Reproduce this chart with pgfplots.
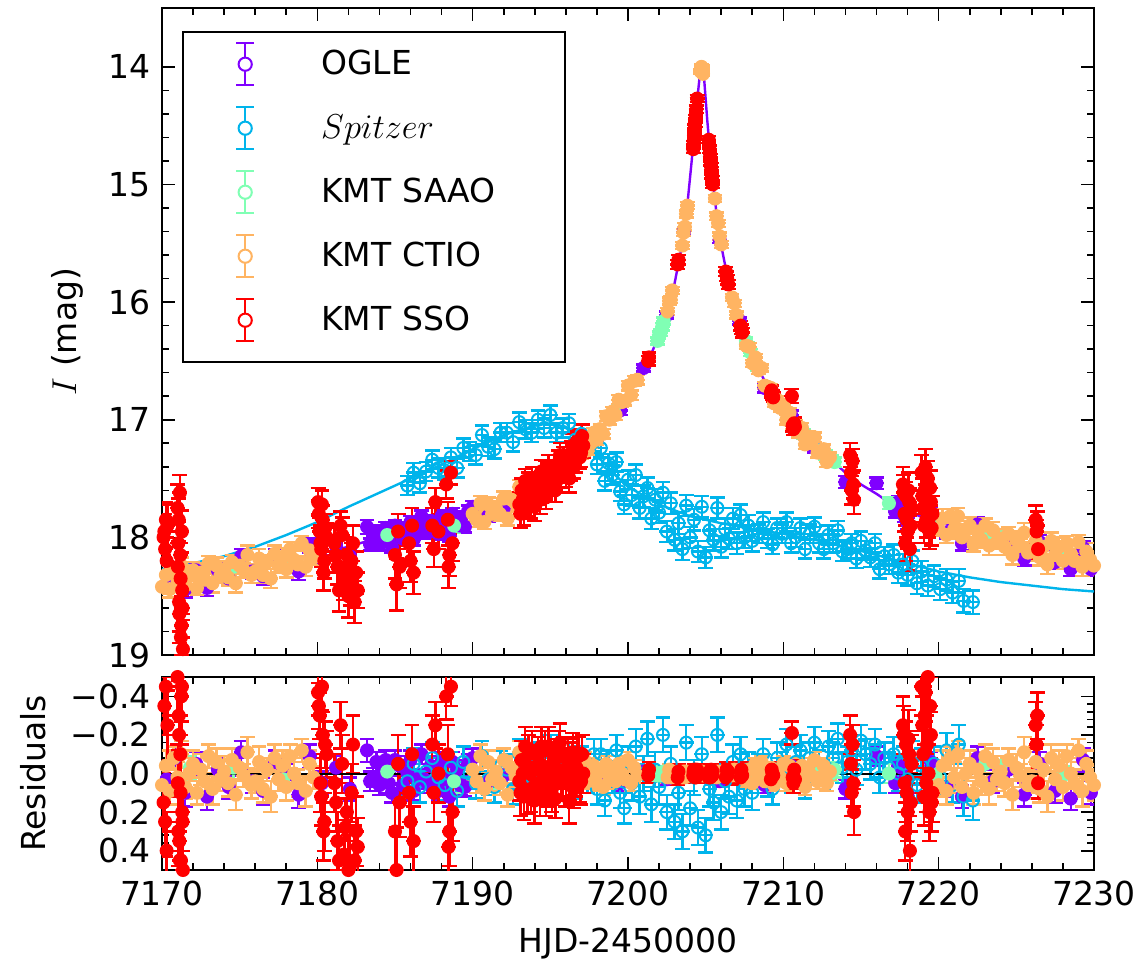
\documentclass[border=0pt]{standalone}
\usepackage{fontspec}
\setmainfont{DejaVu Sans}
\usepackage{pgfplots}
\usepackage{pgfplotstable}
\pgfplotsset{compat=1.18}
\definecolor{ogle}{RGB}{128,0,255}
\definecolor{spitzer}{RGB}{0,180,235}
\definecolor{saao}{RGB}{128,255,180}
\definecolor{ctio}{RGB}{255,180,98}
\definecolor{sso}{RGB}{255,0,0}

\pgfplotstableread{
t m e r
7170.3 18.39 0.06 0.03
7170.8 18.27 0.06 -0.08
7171.5 18.44 0.07 0.10
7172.2 18.28 0.06 -0.05
7172.9 18.43 0.07 0.12
7173.6 18.28 0.06 -0.02
7174.3 18.35 0.06 0.07
7175.1 18.16 0.06 -0.11
7175.8 18.29 0.06 0.04
7176.5 18.33 0.07 0.09
7177.3 18.16 0.06 -0.06
7178.0 18.21 0.06 0.01
7178.8 18.29 0.07 0.11
7179.5 18.07 0.06 -0.09
7180.3 18.18 0.06 0.05
7181.2 18.07 0.06 -0.03
7182.1 18.16 0.06 0.08
7183.2 17.91 0.06 -0.12
7183.4 18.06 0.05 0.04
7183.6 18.04 0.05 0.02
7183.8 17.95 0.05 -0.06
7184.0 18.06 0.05 0.06
7184.2 17.97 0.05 -0.02
7184.4 17.92 0.05 -0.07
7184.6 18.03 0.05 0.05
7184.8 18.08 0.05 0.10
7185.0 17.90 0.05 -0.07
7185.3 17.92 0.05 -0.04
7185.5 18.01 0.05 0.06
7185.8 17.95 0.05 0.00
7186.0 17.87 0.05 -0.07
7186.2 18.02 0.05 0.09
7186.4 17.96 0.05 0.03
7186.7 17.82 0.05 -0.10
7186.9 17.94 0.05 0.03
7187.1 17.96 0.05 0.05
7187.3 17.86 0.05 -0.04
7187.6 17.92 0.05 0.03
7187.8 17.97 0.05 0.09
7188.0 17.82 0.05 -0.06
7188.2 17.90 0.05 0.03
7188.5 17.99 0.05 0.12
7188.7 17.80 0.05 -0.06
7189.0 17.83 0.05 -0.02
7189.2 17.90 0.05 0.06
7189.5 17.91 0.05 0.07
7189.7 17.78 0.05 -0.05
7190.0 17.74 0.05 -0.08
7191.0 17.82 0.05 0.04
7192.0 17.75 0.05 0.01
7193.5 17.59 0.05 -0.05
7195.0 17.57 0.05 0.06
7196.5 17.31 0.05 -0.03
7198.0 17.14 0.04 0.02
7199.5 16.92 0.04 0.05
7201.0 16.56 0.03 -0.01
7202.5 16.11 0.03 0.03
7203.6 15.40 0.03 0.00
7205.9 15.47 0.03 0.04
7207.2 16.16 0.03 -0.02
7208.8 16.73 0.04 0.06
7210.5 16.96 0.04 -0.04
7212.0 17.24 0.04 0.02
7214.0 17.53 0.05 0.08
7216.0 17.54 0.05 -0.09
7217.2 17.78 0.05 0.05
7217.4 17.70 0.05 -0.04
7217.6 17.73 0.05 -0.03
7217.8 17.82 0.05 0.05
7218.0 17.88 0.05 0.10
7219.5 17.79 0.05 -0.06
7220.5 17.96 0.05 0.07
7221.5 18.05 0.06 0.12
7222.5 17.89 0.06 -0.08
7223.5 18.04 0.06 0.04
7224.5 18.02 0.06 -0.02
7225.5 18.18 0.06 0.11
7226.5 18.04 0.06 -0.05
7227.5 18.21 0.06 0.09
7228.5 18.27 0.06 0.13
7229.3 18.09 0.06 -0.07
7229.8 18.27 0.06 0.10
}\ogletab

\pgfplotstableread{
t m e r
7185.8 17.56 0.08 0.04
7186.2 17.45 0.08 -0.05
7186.6 17.54 0.08 0.07
7187.0 17.44 0.08 -0.01
7187.4 17.34 0.08 -0.08
7187.8 17.41 0.08 0.02
7188.2 17.43 0.08 0.06
7188.6 17.32 0.08 -0.03
7189.0 17.41 0.08 0.09
7189.4 17.24 0.08 -0.06
7189.8 17.27 0.08 0.00
7190.2 17.30 0.08 0.05
7190.6 17.13 0.08 -0.09
7191.0 17.23 0.08 0.03
7191.4 17.25 0.08 0.07
7191.8 17.11 0.08 -0.04
7192.2 17.11 0.08 -0.02
7192.6 17.19 0.08 0.08
7193.0 17.02 0.08 -0.10
7193.4 17.08 0.08 -0.02
7193.8 17.11 0.08 0.02
7194.2 17.00 0.08 -0.08
7194.6 17.07 0.08 0.00
7195.0 16.96 0.08 -0.12
7195.4 17.11 0.08 0.03
7195.8 17.07 0.08 -0.02
7196.2 17.03 0.08 -0.08
7196.6 17.17 0.08 0.05
7197.0 17.12 0.08 -0.06
7197.4 17.21 0.08 0.02
7197.8 17.19 0.08 -0.10
7198.00 17.38 0.08 0.08
7198.25 17.24 0.08 -0.10
7198.50 17.52 0.08 0.14
7198.75 17.37 0.08 -0.04
7199.00 17.47 0.08 0.02
7199.25 17.36 0.08 -0.12
7199.50 17.61 0.08 0.10
7199.75 17.72 0.08 0.18
7200.00 17.51 0.08 -0.06
7200.25 17.64 0.09 0.05
7200.50 17.47 0.09 -0.14
7200.75 17.75 0.09 0.12
7201.00 17.65 0.09 0.00
7201.25 17.58 0.09 -0.18
7201.50 17.84 0.09 0.16
7201.75 17.68 0.09 -0.02
7202.00 17.79 0.09 0.07
7202.25 17.62 0.09 -0.20
7202.50 17.95 0.09 0.20
7202.75 17.71 0.09 -0.05
7203.00 18.02 0.09 0.25
7203.25 17.88 0.09 0.10
7203.50 18.10 0.09 0.30
7203.75 17.73 0.09 -0.16
7204.00 18.00 0.09 0.18
7204.25 17.85 0.09 0.02
7204.50 18.12 0.09 0.28
7204.75 17.74 0.09 -0.10
7205.00 18.17 0.09 0.32
7205.25 17.94 0.09 0.08
7205.50 18.02 0.09 0.15
7205.75 17.75 0.09 -0.20
7206.00 18.08 0.09 0.20
7206.25 17.93 0.09 0.04
7206.50 18.01 0.09 0.12
7206.75 17.84 0.09 -0.06
7207.00 18.05 0.09 0.14
7207.25 17.81 0.09 -0.10
7207.50 18.00 0.09 0.08
7207.75 17.90 0.09 -0.02
7208.00 18.03 0.09 0.10
7208.4 17.97 0.08 -0.02
7208.7 17.87 0.08 -0.10
7209.0 18.01 0.08 0.04
7209.3 18.06 0.08 0.08
7209.6 17.92 0.08 -0.08
7209.9 17.97 0.08 -0.03
7210.2 17.87 0.08 -0.15
7210.5 18.05 0.08 0.02
7210.8 18.00 0.08 -0.06
7211.1 17.92 0.08 -0.12
7211.4 18.10 0.08 0.05
7211.7 17.97 0.08 -0.08
7212.0 17.91 0.08 -0.16
7212.3 18.05 0.08 -0.04
7212.6 18.10 0.08 0.00
7212.9 17.98 0.08 -0.14
7213.2 18.05 0.08 -0.08
7213.5 17.94 0.08 -0.18
7213.8 18.12 0.08 -0.03
7214.1 18.10 0.08 -0.06
7214.4 18.05 0.08 -0.12
7214.7 18.18 0.08 -0.02
7215.0 18.03 0.08 -0.17
7215.3 18.11 0.08 -0.10
7215.6 18.17 0.08 -0.05
7215.9 18.05 0.08 -0.15
7216.2 18.27 0.08 0.02
7216.5 18.16 0.08 -0.08
7216.8 18.23 0.08 -0.03
7217.1 18.15 0.09 -0.10
7217.4 18.30 0.09 0.00
7217.7 18.23 0.09 -0.05
7218.0 18.32 0.09 0.03
7218.3 18.20 0.09 -0.08
7218.6 18.39 0.09 0.06
7218.9 18.29 0.09 -0.04
7219.3 18.41 0.09 0.05
7219.7 18.33 0.09 -0.05
7220.1 18.44 0.09 0.02
7220.5 18.36 0.09 -0.12
7220.9 18.47 0.09 0.06
7221.3 18.37 0.10 -0.15
7221.6 18.54 0.10 0.12
7222.2 18.55 0.10 0.14
}\spitab

\pgfplotstableread{
t m e r
7171.8 18.30 0.06 -0.03
7174.6 18.25 0.06 -0.03
7177.8 18.24 0.06 0.03
7184.5 17.98 0.06 -0.01
7188.8 17.90 0.06 0.04
7191.5 17.78 0.06 0.02
7199.1 16.93 0.03 -0.02
7201.9 16.33 0.03 0.01
7202.0 16.28 0.03 0.00
7202.1 16.26 0.03 0.01
7202.2 16.21 0.03 0.00
7202.3 16.16 0.03 -0.01
7207.6 16.33 0.03 0.00
7207.7 16.37 0.03 0.01
7207.9 16.43 0.03 -0.01
7208.3 16.55 0.03 0.00
7210.8 17.05 0.04 0.00
7211.3 17.12 0.04 -0.01
7212.3 17.26 0.04 0.00
7212.7 17.30 0.04 0.01
7213.1 17.34 0.04 0.00
7213.3 17.36 0.04 -0.02
7216.8 17.71 0.05 0.00
7219.8 17.86 0.05 0.01
7223.0 17.99 0.05 -0.05
7224.0 18.00 0.05 -0.04
7228.0 18.15 0.05 0.01
}\saaotab

\pgfplotstableread{
t m e r
7170.00 18.42 0.06 0.06
7170.25 18.32 0.08 -0.04
7170.50 18.44 0.07 0.09
7170.75 18.27 0.06 -0.08
7171.00 18.37 0.08 0.02
7171.25 18.24 0.07 -0.10
7171.50 18.41 0.06 0.07
7171.75 18.33 0.08 0.00
7172.00 18.28 0.07 -0.05
7172.25 18.43 0.06 0.10
7172.50 18.30 0.08 -0.02
7172.75 18.36 0.07 0.04
7173.00 18.22 0.06 -0.09
7173.25 18.39 0.08 0.08
7173.50 18.24 0.07 -0.06
7173.75 18.33 0.06 0.03
7174.00 18.28 0.08 -0.01
7174.25 18.34 0.07 0.05
7174.50 18.21 0.06 -0.07
7174.75 18.39 0.08 0.11
7175.00 18.24 0.07 -0.03
7175.25 18.28 0.06 0.01
7175.50 18.15 0.08 -0.11
7175.75 18.32 0.07 0.06
7176.00 18.29 0.06 0.04
7176.25 18.18 0.08 -0.06
7176.50 18.32 0.07 0.08
7176.75 18.21 0.06 -0.02
7177.00 18.35 0.08 0.12
7177.25 18.14 0.07 -0.08
7177.50 18.24 0.06 0.03
7177.75 18.17 0.08 -0.04
7178.00 18.27 0.07 0.07
7178.25 18.10 0.06 -0.09
7178.50 18.19 0.08 0.00
7178.75 18.23 0.07 0.05
7179.00 18.05 0.06 -0.12
7179.25 18.25 0.08 0.09
7179.50 18.11 0.07 -0.05
7179.75 18.17 0.06 0.02
7190.00 17.80 0.06 -0.02
7190.25 17.85 0.06 0.04
7190.50 17.71 0.06 -0.09
7190.75 17.87 0.06 0.08
7191.00 17.72 0.06 -0.06
7191.25 17.80 0.06 0.03
7191.50 17.75 0.06 -0.01
7191.75 17.80 0.06 0.05
7192.00 17.67 0.06 -0.07
7192.25 17.84 0.06 0.11
7192.50 17.68 0.06 -0.03
7192.75 17.71 0.06 0.01
7193.00 17.57 0.06 -0.11
7196.8 17.28 0.04 -0.02
7197.0 17.29 0.04 0.01
7197.2 17.18 0.04 -0.07
7197.4 17.26 0.04 0.04
7197.6 17.20 0.04 0.02
7197.8 17.11 0.04 -0.04
7198.0 17.17 0.04 0.05
7198.2 17.08 0.04 -0.01
7198.4 17.12 0.04 0.07
7198.6 16.97 0.04 -0.05
7198.8 17.00 0.04 0.02
7199.0 16.93 0.04 -0.02
7199.2 16.96 0.04 0.04
7199.4 16.83 0.04 -0.05
7199.6 16.85 0.04 0.00
7199.8 16.84 0.04 0.03
7200.0 16.71 0.04 -0.07
7200.2 16.79 0.04 0.05
7200.4 16.67 0.04 -0.03
7200.6 16.66 0.04 0.01
7202.55 16.08 0.03 0.02
7202.65 15.99 0.03 -0.02
7202.75 15.98 0.03 0.02
7202.85 15.90 0.03 -0.01
7203.50 15.52 0.03 0.02
7203.58 15.41 0.03 -0.01
7203.66 15.36 0.03 0.02
7203.74 15.25 0.03 -0.01
7203.82 15.18 0.03 0.01
7204.68 14.04 0.02 -0.01
7204.73 14.00 0.02 -0.01
7204.78 14.01 0.02 0.00
7204.83 14.06 0.02 0.01
7205.60 15.12 0.03 -0.01
7205.70 15.27 0.03 0.02
7205.80 15.33 0.03 -0.01
7205.90 15.44 0.03 0.01
7206.00 15.51 0.03 -0.01
7206.70 15.96 0.03 0.01
7206.85 16.01 0.03 -0.02
7207.00 16.11 0.03 0.01
7207.6 16.37 0.03 0.04
7207.8 16.38 0.03 -0.02
7208.0 16.52 0.03 0.05
7208.2 16.47 0.03 -0.05
7208.4 16.58 0.03 0.01
7208.6 16.56 0.03 -0.06
7208.8 16.71 0.03 0.04
7209.0 16.72 0.03 0.00
7209.2 16.73 0.03 -0.03
7209.4 16.86 0.03 0.06
7209.6 16.83 0.03 -0.01
7209.8 16.90 0.03 0.02
7210.0 16.87 0.04 -0.05
7210.2 17.00 0.04 0.05
7210.4 16.94 0.04 -0.04
7210.6 17.04 0.04 0.02
7210.8 17.04 0.04 -0.01
7211.0 17.11 0.04 0.03
7211.2 17.07 0.04 -0.04
7211.4 17.21 0.04 0.07
7211.6 17.14 0.04 -0.02
7211.8 17.20 0.04 0.01
7212.0 17.15 0.04 -0.07
7212.2 17.28 0.04 0.04
7212.4 17.28 0.04 0.02
7212.6 17.25 0.04 -0.04
7212.8 17.36 0.04 0.05
7213.0 17.32 0.04 -0.01
7220.00 17.93 0.06 0.06
7220.25 17.84 0.08 -0.04
7220.50 17.98 0.07 0.09
7220.75 17.82 0.06 -0.08
7221.00 17.93 0.08 0.02
7221.25 17.82 0.07 -0.10
7221.50 18.00 0.06 0.07
7221.75 17.94 0.08 0.00
7222.00 17.90 0.07 -0.05
7222.25 18.06 0.06 0.10
7222.50 17.95 0.08 -0.02
7222.75 18.02 0.07 0.04
7223.00 17.90 0.06 -0.09
7223.25 18.07 0.08 0.08
7223.50 17.94 0.07 -0.06
7223.75 18.04 0.06 0.03
7224.00 18.01 0.08 -0.01
7224.25 18.08 0.07 0.05
7224.50 17.97 0.06 -0.07
7224.75 18.15 0.08 0.11
7225.00 18.02 0.07 -0.03
7225.25 18.07 0.06 0.01
7225.50 17.96 0.08 -0.11
7225.75 18.13 0.07 0.06
7226.00 18.12 0.06 0.04
7226.25 18.03 0.08 -0.06
7226.50 18.17 0.07 0.08
7226.75 18.08 0.06 -0.02
7227.00 18.23 0.08 0.12
7227.25 18.03 0.07 -0.08
7227.50 18.15 0.06 0.03
7227.75 18.08 0.08 -0.04
7228.00 18.20 0.07 0.07
7228.25 18.05 0.06 -0.09
7228.50 18.14 0.08 0.00
7228.75 18.20 0.07 0.05
7229.00 18.04 0.06 -0.12
7229.25 18.25 0.08 0.09
7229.50 18.12 0.07 -0.05
7229.75 18.19 0.06 0.02
7230.00 18.24 0.08 0.06
}\ctiotab

\pgfplotstableread{
t m e r
7170.10 18.00 0.15 0.15
7170.15 17.95 0.15 -0.35
7170.20 18.10 0.18 0.25
7170.25 17.85 0.15 -0.45
7170.30 18.20 0.20 0.40
7170.35 17.90 0.18 -0.25
7171.00 17.75 0.20 -0.50
7171.02 18.25 0.20 0.05
7171.05 18.05 0.18 0.30
7171.08 17.85 0.18 -0.30
7171.10 18.55 0.25 -0.20
7171.12 18.65 0.25 0.35
7171.15 17.62 0.15 0.45
7171.18 18.15 0.20 -0.10
7171.20 18.35 0.30 0.10
7171.22 18.85 0.25 0.45
7171.25 18.75 0.25 -0.40
7171.28 17.95 0.18 -0.45
7171.30 18.45 0.20 0.20
7171.32 18.60 0.25 0.25
7171.35 18.95 0.25 0.50
7180.05 17.70 0.12 -0.42
7180.10 17.80 0.12 -0.35
7180.15 17.95 0.12 -0.30
7180.20 18.05 0.15 0.05
7180.25 18.10 0.15 0.12
7180.30 17.72 0.12 -0.45
7180.35 17.85 0.12 -0.20
7180.40 18.30 0.15 0.30
7180.45 18.20 0.15 0.25
7180.50 17.92 0.12 -0.15
7180.60 18.00 0.12 -0.10
7181.10 18.05 0.15 0.05
7181.20 18.15 0.15 0.15
7181.30 18.25 0.15 0.35
7181.40 18.45 0.18 0.45
7181.50 17.90 0.12 -0.25
7181.60 17.98 0.15 -0.05
7181.70 18.35 0.18 0.42
7181.80 18.25 0.15 0.28
7181.90 18.15 0.15 0.20
7182.00 18.50 0.18 0.50
7182.10 18.40 0.18 0.48
7182.20 18.20 0.15 0.10
7182.30 18.05 0.15 -0.15
7182.40 18.55 0.18 0.45
7182.50 18.30 0.18 0.30
7182.60 18.45 0.15 0.38
7185.00 18.15 0.20 0.30
7185.10 18.40 0.22 0.50
7185.20 17.95 0.15 -0.05
7185.30 18.25 0.18 0.15
7185.90 18.05 0.15 0.10
7186.00 18.20 0.18 0.25
7186.10 17.90 0.15 -0.10
7186.20 18.30 0.18 0.35
7187.40 17.90 0.15 -0.15
7187.50 18.10 0.15 0.10
7187.60 17.70 0.12 -0.25
7187.80 17.95 0.15 0.00
7188.30 17.55 0.12 -0.40
7188.40 17.85 0.15 -0.10
7188.45 18.25 0.18 0.38
7188.50 18.15 0.18 0.30
7188.60 17.45 0.10 -0.45
7188.70 18.05 0.15 0.20
7193.00 17.72 0.10 0.04
7193.08 17.80 0.12 0.10
7193.15 17.60 0.10 -0.07
7193.22 17.68 0.10 0.00
7193.30 17.78 0.12 0.12
7193.38 17.52 0.10 -0.14
7193.45 17.62 0.10 -0.04
7193.52 17.70 0.12 0.09
7193.60 17.55 0.10 -0.10
7193.68 17.62 0.10 0.00
7193.75 17.72 0.12 0.08
7193.82 17.50 0.10 -0.12
7193.90 17.58 0.10 -0.03
7193.98 17.74 0.12 0.14
7194.05 17.66 0.10 0.06
7194.12 17.56 0.10 -0.02
7194.20 17.50 0.10 -0.09
7194.28 17.62 0.10 0.05
7194.35 17.68 0.12 0.10
7194.42 17.44 0.10 -0.14
7194.50 17.52 0.10 -0.04
7194.58 17.58 0.12 0.02
7194.65 17.45 0.10 -0.12
7194.72 17.66 0.10 0.12
7194.80 17.60 0.10 0.07
7194.88 17.40 0.10 -0.14
7194.95 17.48 0.10 -0.03
7195.02 17.55 0.10 0.06
7195.10 17.58 0.12 0.08
7195.18 17.46 0.12 -0.01
7195.25 17.40 0.10 -0.08
7195.32 17.60 0.10 0.13
7195.40 17.52 0.10 0.03
7195.48 17.44 0.10 -0.02
7195.55 17.36 0.10 -0.12
7195.62 17.30 0.10 -0.16
7195.70 17.48 0.10 0.04
7195.78 17.42 0.12 0.00
7195.85 17.33 0.10 -0.09
7195.92 17.38 0.10 -0.02
7196.00 17.45 0.12 0.05
7196.08 17.36 0.10 -0.03
7196.15 17.30 0.10 -0.08
7196.22 17.50 0.12 0.14
7196.30 17.42 0.10 0.06
7196.38 17.28 0.10 -0.06
7196.45 17.22 0.10 -0.11
7196.52 17.40 0.10 0.08
7196.60 17.35 0.10 0.02
7196.68 17.26 0.10 -0.03
7196.75 17.20 0.10 -0.09
7196.82 17.18 0.10 -0.09
7196.90 17.32 0.10 0.05
7196.98 17.28 0.12 0.04
7197.05 17.14 0.10 -0.10
7197.12 17.22 0.10 0.00
7201.30 16.50 0.04 0.01
7201.35 16.47 0.04 -0.02
7203.20 15.68 0.04 0.02
7203.25 15.64 0.04 -0.01
7204.20 14.70 0.03 0.01
7204.22 14.66 0.03 -0.01
7204.25 14.62 0.03 -0.02
7204.28 14.57 0.03 0.01
7204.30 14.52 0.03 0.02
7204.32 14.48 0.03 -0.02
7204.35 14.44 0.03 -0.01
7204.38 14.40 0.03 0.02
7204.40 14.36 0.03 0.01
7204.45 14.27 0.03 -0.02
7205.20 14.62 0.03 0.02
7205.22 14.66 0.03 0.00
7205.25 14.70 0.03 -0.01
7205.28 14.74 0.03 0.01
7205.30 14.77 0.03 0.02
7205.32 14.81 0.03 -0.01
7205.35 14.85 0.03 -0.02
7205.38 14.88 0.03 0.00
7205.40 14.92 0.03 0.01
7205.42 14.96 0.03 0.01
7205.45 15.00 0.03 -0.01
7206.30 15.74 0.04 0.02
7206.35 15.78 0.04 -0.02
7206.40 15.81 0.04 0.01
7206.45 15.85 0.04 -0.01
7207.25 16.20 0.04 0.02
7207.30 16.23 0.04 -0.02
7207.35 16.26 0.04 0.01
7209.20 16.77 0.04 0.03
7209.25 16.75 0.04 -0.02
7209.30 16.79 0.04 0.00
7209.35 16.81 0.04 0.01
7210.55 16.80 0.06 -0.21
7210.60 17.05 0.05 0.02
7210.65 17.08 0.05 0.05
7210.70 17.03 0.05 -0.02
7210.75 17.06 0.05 0.03
7214.30 17.30 0.10 -0.20
7214.35 17.45 0.10 -0.05
7214.40 17.60 0.12 0.10
7214.45 17.35 0.10 -0.15
7214.50 17.55 0.12 0.05
7214.55 17.68 0.12 0.20
7217.70 17.55 0.15 -0.25
7217.75 17.62 0.15 -0.20
7217.80 17.80 0.15 0.05
7217.85 18.05 0.15 0.30
7217.90 17.65 0.12 -0.15
7217.95 17.85 0.15 0.10
7218.00 17.95 0.15 0.20
7218.05 17.60 0.15 -0.18
7218.10 17.70 0.12 -0.10
7218.15 18.10 0.18 0.40
7218.20 17.90 0.15 0.15
7218.25 17.75 0.15 -0.05
7218.90 17.45 0.15 -0.45
7218.95 17.65 0.15 -0.25
7219.00 17.75 0.12 -0.10
7219.05 17.90 0.15 0.12
7219.10 17.60 0.15 -0.30
7219.15 17.40 0.15 -0.42
7219.20 17.85 0.15 0.05
7219.25 17.70 0.15 -0.15
7219.30 17.50 0.15 -0.50
7219.35 17.85 0.15 0.00
7219.40 17.95 0.15 0.20
7219.45 17.58 0.15 -0.35
7219.50 17.70 0.12 -0.20
7219.55 17.92 0.15 0.15
7219.60 17.80 0.15 0.10
7226.25 17.85 0.12 -0.25
7226.30 17.95 0.10 -0.15
7226.35 17.90 0.12 -0.30
7226.40 18.10 0.08 0.05
}\ssotab

\pgfplotsset{
  dat/.style={only marks, mark=o, mark size=3pt,
    mark options={line width=1pt, solid}, line width=1pt,
    error bars/y dir=both, error bars/y explicit,
    error bars/error bar style={line width=1.2pt},
    error bars/draw error bar/.code 2 args={%
      \draw[line width=1.2pt] ##1 -- ##2
        ##1 ++(-3.7pt,0pt) -- ++(7.4pt,0pt)
        ##2 ++(-3.7pt,0pt) -- ++(7.4pt,0pt);}},
  datf/.style={dat, mark=*},
  errleg/.style={legend image code/.code={
    \path[draw=none, fill=none] (0pt,-18.5pt) rectangle (60pt,13.5pt);
    \draw[#1, line width=1pt] (31pt,-10.5pt) -- (31pt,10.5pt)
      (26.5pt,-10.5pt) -- (35.5pt,-10.5pt) (26.5pt,10.5pt) -- (35.5pt,10.5pt);
    \draw[#1, line width=1pt, fill=white] (31pt,0pt) circle (3.3pt);}},
  base/.style={scale only axis, width=466pt, xmin=7170, xmax=7230,
    y dir=reverse, xtick={7170,7180,7190,7200,7210,7220,7230},
    minor x tick num=4, tick align=inside, xtick pos=both, ytick pos=both,
    major tick length=6.5pt, minor tick length=3.5pt,
    tick style={black, line width=0.8pt},
    axis line style={line width=1pt},
    tick label style={font=\fontsize{16.5}{20}\selectfont},
    label style={font=\fontsize{16.5}{20}\selectfont},
    yticklabel style={xshift=-2pt}, xticklabel style={yshift=-2pt}},
}

\begin{document}
\begin{tikzpicture}[font=\fontsize{16.5}{20}\selectfont]
\useasboundingbox (-81pt,-157.5pt) rectangle (488pt,327.5pt);
\begin{axis}[base, name=top, at={(0,0)}, anchor=south west,
  height=323.5pt, ymin=13.5, ymax=19,
  xticklabels={},
  ytick={14,15,16,17,18,19}, yticklabels={14,15,16,17,18,19},
  minor y tick num=4,
  ylabel={$I$ (mag)},
  ylabel style={at={(axis description cs:-0.102,0.5)}, anchor=center},
  legend cell align=left,
  legend style={at={(axis description cs:0,1)}, anchor=north west,
    xshift=10pt, yshift=-11.5pt, draw=black, line width=1.2pt, fill=white,
    inner xsep=0pt, inner ysep=2.5pt, row sep=0pt, column sep=9pt,
    nodes={inner sep=0pt, text width=122pt},
    font=\fontsize{16.5}{20}\selectfont}]
\addplot[ogle, line width=1.2pt, forget plot] coordinates {
(7170,18.36) (7172,18.33) (7174,18.29) (7176,18.25) (7178,18.20) (7180,18.14)
(7182,18.08) (7184,18.00) (7186,17.94) (7188,17.88) (7190,17.82) (7192,17.74)
(7193,17.68) (7194,17.60) (7195,17.51) (7196,17.40) (7197,17.28) (7198,17.12)
(7199,16.95) (7200,16.78) (7201,16.57) (7201.5,16.44) (7202,16.28) (7202.5,16.08)
(7203,15.84) (7203.5,15.50) (7203.8,15.20) (7204.1,14.80) (7204.4,14.35)
(7204.6,14.10) (7204.75,14.00) (7204.9,14.10) (7205.1,14.45) (7205.4,14.90)
(7205.7,15.25) (7206,15.52) (7206.5,15.85) (7207,16.10) (7207.5,16.30)
(7208,16.47) (7209,16.72) (7210,16.92) (7211,17.08) (7212,17.22) (7213,17.33)
(7214,17.45) (7215,17.55) (7216,17.63) (7217,17.72) (7218,17.78) (7219,17.83)
(7220,17.87) (7222,17.95) (7224,18.02) (7226,18.08) (7228,18.13) (7230,18.18)};
\addplot[spitzer, line width=1.2pt, forget plot] coordinates {
(7170,18.27) (7172,18.22) (7174,18.16) (7176,18.08) (7178,17.98) (7180,17.87)
(7182,17.74) (7184,17.62) (7186,17.50) (7188,17.38) (7190,17.25) (7192,17.13)
(7194,17.05) (7195,17.03) (7196,17.06) (7197,17.15) (7198,17.30) (7199,17.45)
(7200,17.57) (7202,17.72) (7204,17.82) (7206,17.88) (7208,17.93) (7210,17.97)
(7212,18.02) (7214,18.08) (7216,18.15) (7218,18.22) (7220,18.29) (7222,18.34)
(7224,18.38) (7226,18.41) (7228,18.44) (7230,18.46)};
\addplot[ogle, datf, errleg=ogle] table[x=t, y=m, y error=e] {\ogletab};
\addlegendentry{OGLE}
\addplot[spitzer, dat, errleg=spitzer] table[x=t, y=m, y error=e] {\spitab};
\addlegendentry{$Spitzer$}
\addplot[saao, datf, errleg=saao] table[x=t, y=m, y error=e] {\saaotab};
\addlegendentry{KMT SAAO}
\addplot[ctio, datf, errleg=ctio] table[x=t, y=m, y error=e] {\ctiotab};
\addlegendentry{KMT CTIO}
\addplot[sso, datf, errleg=sso] table[x=t, y=m, y error=e] {\ssotab};
\addlegendentry{KMT SSO}
\end{axis}

\begin{axis}[base, at={(top.south west)}, anchor=north west, yshift=-11pt,
  height=96.5pt, ymin=-0.5, ymax=0.5,
  xticklabels={7170,7180,7190,7200,7210,7220,7230},
  ytick={-0.4,-0.2,0,0.2,0.4}, yticklabels={−0.4,−0.2,0.0,0.2,0.4},
  minor y tick num=4,
  xlabel={HJD-2450000},
  xlabel style={at={(axis description cs:0.5,0)}, anchor=center, yshift=-37pt},
  ylabel={Residuals},
  ylabel style={at={(axis description cs:-0.138,0.5)}, anchor=center}]
\addplot[ogle, datf] table[x=t, y=r, y error=e] {\ogletab};
\addplot[spitzer, dat] table[x=t, y=r, y error=e] {\spitab};
\addplot[saao, datf] table[x=t, y=r, y error=e] {\saaotab};
\addplot[ctio, datf] table[x=t, y=r, y error=e] {\ctiotab};
\addplot[sso, datf] table[x=t, y=r, y error=e] {\ssotab};
\addplot[black, line width=1pt] coordinates {(7170,0) (7230,0)};
\end{axis}
\end{tikzpicture}
\end{document}
